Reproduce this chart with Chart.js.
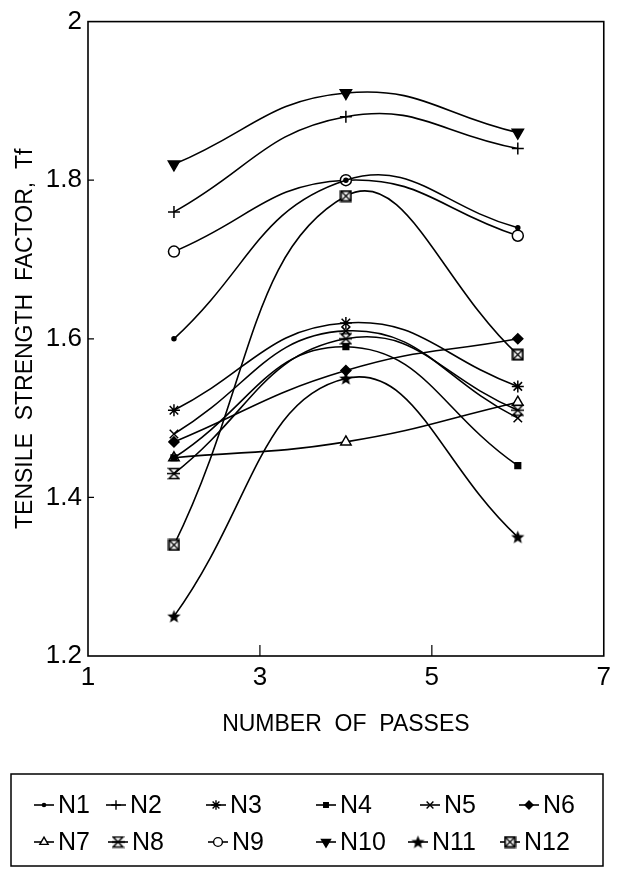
<!DOCTYPE html>
<html>
<head>
<meta charset="utf-8">
<script src="https://cdn.jsdelivr.net/npm/chart.js@4.4.1/dist/chart.umd.min.js"></script>
<style>
  body { margin: 0; background: #fff; }
  canvas { display: block; }
</style>
</head>
<body>
<canvas id="tensile" width="617" height="880"></canvas>
<script>
// number of passes
const passes = [2, 4, 6]

const n1 = [1.60, 1.80, 1.74]
const n2 = [1.76, 1.88, 1.84]
const n3 = [1.51, 1.62, 1.54]
const n4 = [1.45, 1.59, 1.44]
const n5 = [1.48, 1.61, 1.50]
const n6 = [1.47, 1.56, 1.60]
const n7 = [1.45, 1.47, 1.52]
const n8 = [1.43, 1.60, 1.51]
const n9 = [1.71, 1.80, 1.73]
const n10 = [1.82, 1.91, 1.86]
const n11 = [1.25, 1.55, 1.35]
const n12 = [1.34, 1.78, 1.58]

const seriesNames = ['N1', 'N2', 'N3', 'N4', 'N5', 'N6', 'N7', 'N8', 'N9', 'N10', 'N11', 'N12']
const seriesValues = [n1, n2, n3, n4, n5, n6, n7, n8, n9, n10, n11, n12]

const yTicks = [1.2, 1.4, 1.6, 1.8, 2]
const xTicks = [1, 3, 5, 7]

const FONT = '"Liberation Sans", Arial, sans-serif'

// little canvases for the markers chart.js has no style for
function makeMarker(size, draw) {
    const c = document.createElement('canvas')
    c.width = size
    c.height = size
    const g = c.getContext('2d')
    g.strokeStyle = '#000'
    g.fillStyle = '#000'
    g.lineWidth = 1.5
    draw(g, size)
    return c
}

const hourglass = makeMarker(13, (g, s) => {
    g.beginPath()
    g.moveTo(1.5, 1.5); g.lineTo(s - 1.5, 1.5)
    g.lineTo(1.5, s - 1.5); g.lineTo(s - 1.5, s - 1.5)
    g.closePath()
    g.stroke()
    g.beginPath()
    g.moveTo(0, s / 2); g.lineTo(s, s / 2)
    g.stroke()
})

const boxCross = makeMarker(13, (g, s) => {
    g.fillStyle = '#fff'
    g.fillRect(1, 1, s - 2, s - 2)
    g.lineWidth = 2
    g.strokeRect(1.5, 1.5, s - 3, s - 3)
    g.lineWidth = 1.3
    g.beginPath()
    g.moveTo(2, 2); g.lineTo(s - 2, s - 2)
    g.moveTo(s - 2, 2); g.lineTo(2, s - 2)
    g.stroke()
})

const solidStar = makeMarker(15, (g, s) => {
    const cx = s / 2, cy = s / 2 + 0.5, R = 7, r = 3
    g.beginPath()
    for (let i = 0; i < 10; i++) {
        const a = -Math.PI / 2 + i * Math.PI / 5
        const rad = i % 2 === 0 ? R : r
        g.lineTo(cx + rad * Math.cos(a), cy + rad * Math.sin(a))
    }
    g.closePath()
    g.fill()
})

const markers = [
    { style: 'circle', radius: 2, fill: '#000' },
    { style: 'cross', radius: 6, fill: '#000' },
    { style: 'star', radius: 6, fill: '#000' },
    { style: 'rect', radius: 4, fill: '#000' },
    { style: 'crossRot', radius: 6, fill: '#000' },
    { style: 'rectRot', radius: 5, fill: '#000' },
    { style: 'triangle', radius: 6, fill: '#fff' },
    { style: hourglass, radius: 6, fill: '#000' },
    { style: 'circle', radius: 5.5, fill: '#fff' },
    { style: 'triangle', radius: 6.5, fill: '#000', rotation: 180 },
    { style: solidStar, radius: 7, fill: '#000' },
    { style: boxCross, radius: 6, fill: '#fff' }
]

const datasets = seriesNames.map((name, i) => ({
    label: name,
    data: passes.map((p, j) => ({ x: p, y: seriesValues[i][j] })),
    borderColor: '#000',
    borderWidth: 1.6,
    backgroundColor: markers[i].fill,
    pointStyle: markers[i].style,
    pointRadius: markers[i].radius,
    pointRotation: markers[i].rotation || 0,
    pointBorderColor: '#000',
    pointBorderWidth: 1.5,
    pointBackgroundColor: markers[i].fill,
    tension: 0.45,
    fill: false
}))

// frame, inward ticks and the boxed legend
const paperPlugin = {
    id: 'paper',
    afterDraw(chart) {
        const ctx = chart.ctx
        const a = chart.chartArea
        const xs = chart.scales.x
        const ys = chart.scales.y
        ctx.save()
        ctx.strokeStyle = '#000'
        ctx.lineWidth = 1.6
        ctx.strokeRect(a.left, a.top, a.right - a.left, a.bottom - a.top)

        ctx.lineWidth = 1.2
        ctx.beginPath()
        xTicks.slice(1, -1).forEach(v => {
            const px = xs.getPixelForValue(v)
            ctx.moveTo(px, a.bottom)
            ctx.lineTo(px, a.bottom - 11)
        })
        yTicks.slice(1, -1).forEach(v => {
            const py = ys.getPixelForValue(v)
            ctx.moveTo(a.left, py)
            ctx.lineTo(a.left + 6, py)
        })
        ctx.stroke()

        // legend box
        ctx.lineWidth = 1.5
        ctx.strokeRect(11, 774, 592, 92)
        const textX = [[58, 130, 230, 340, 444, 543], [58, 132, 232, 340, 432, 524]]
        const rowY = [805, 842]
        ctx.font = '25px ' + FONT
        ctx.fillStyle = '#000'
        ctx.textBaseline = 'middle'
        chart.data.datasets.forEach((ds, i) => {
            const row = Math.floor(i / 6)
            const col = i % 6
            const tx = textX[row][col]
            const y = rowY[row]
            const x0 = tx - 24
            const x1 = tx - 4
            ctx.strokeStyle = '#000'
            ctx.lineWidth = 1.6
            ctx.beginPath()
            ctx.moveTo(x0, y)
            ctx.lineTo(x1, y)
            ctx.stroke()
            const m = markers[i]
            ctx.fillStyle = m.fill
            ctx.lineWidth = 1.4
            Chart.helpers.drawPoint(ctx, {
                pointStyle: m.style,
                radius: m.radius * 0.8,
                rotation: m.rotation || 0,
                borderWidth: 1.4
            }, (x0 + x1) / 2, y)
            ctx.fillStyle = '#000'
            ctx.fillText(ds.label, tx, y + 1)
        })
        ctx.restore()
    }
}

new Chart(document.querySelector('#tensile'), {
    type: 'line',
    data: { datasets: datasets },
    options: {
        responsive: false,
        animation: false,
        devicePixelRatio: 1,
        layout: { padding: { top: 20, right: 0, left: 0, bottom: 124 } },
        plugins: {
            legend: { display: false },
            tooltip: { enabled: false }
        },
        scales: {
            x: {
                type: 'linear',
                min: 1,
                max: 7,
                afterBuildTicks: scale => { scale.ticks = xTicks.map(v => ({ value: v })) },
                afterFit: scale => { scale.height = 100 },
                grid: { display: false, drawTicks: false },
                border: { display: false },
                ticks: {
                    color: '#000',
                    padding: 6,
                    maxRotation: 0,
                    font: { family: FONT, size: 26 }
                },
                title: {
                    display: true,
                    text: 'NUMBER  OF  PASSES',
                    color: '#000',
                    font: { family: FONT, size: 23 },
                    padding: { top: 0, bottom: 18 }
                }
            },
            y: {
                min: 1.2,
                max: 2,
                afterBuildTicks: scale => { scale.ticks = yTicks.map(v => ({ value: v })) },
                afterFit: scale => { scale.width = 88 },
                grid: { display: false, drawTicks: false },
                border: { display: false },
                ticks: {
                    color: '#000',
                    padding: 6,
                    font: { family: FONT, size: 26 },
                    callback: v => String(Math.round(v * 10) / 10)
                },
                title: {
                    display: true,
                    text: 'TENSILE  STRENGTH  FACTOR,  Tf',
                    color: '#000',
                    font: { family: FONT, size: 23 },
                    padding: { top: 12, bottom: 0 }
                }
            }
        }
    },
    plugins: [paperPlugin]
})
</script>
</body>
</html>
